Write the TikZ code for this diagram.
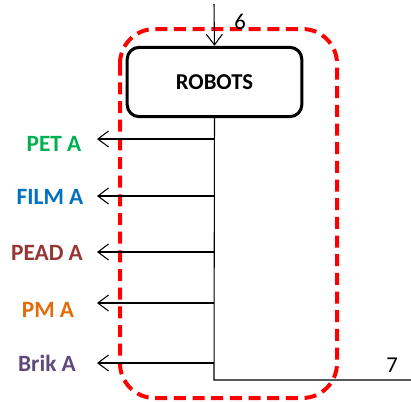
\documentclass[tikz,border=0pt]{standalone}
\usepackage{fontspec}
\setmainfont{Carlito}
\usetikzlibrary{arrows.meta}

\definecolor{petcol}{HTML}{00B050}
\definecolor{filmcol}{HTML}{0070C0}
\definecolor{peadcol}{HTML}{943634}
\definecolor{pmcol}{HTML}{E36C09}
\definecolor{brikcol}{HTML}{5F497A}

\tikzset{
	machine/.style={draw, line width=2.3pt, rounded corners=9pt, minimum width=131pt, minimum height=52pt, font=\fontsize{17}{20}\selectfont\bfseries},
	outlbl/.style={font=\fontsize{17.5}{20}\selectfont\bfseries, inner sep=0pt},
	flownum/.style={font=\fontsize{17}{20}\selectfont, inner sep=0pt},
	zone/.style={draw=red, line width=3pt, dash pattern=on 9pt off 5pt, rounded corners=26pt}
}

\begin{document}
\begin{tikzpicture}[x=0.75pt, y=-0.75pt, line width=0.8pt, >={Straight Barb[length=8pt,width=12pt]}]
	\useasboundingbox (0,0) rectangle (411,401);
	
	% dashed zone round the station
	\draw[zone] (120,29) rectangle (337,398);
	
	\node[machine] (robots) at (214.5,82) {ROBOTS};
	
	% incoming flow 6
	\coordinate (in) at (214,4);
	\draw[->] (in) -- (robots.north);
	\node[flownum] (n6) at (240,22) {6};
	
	% trunk and outgoing flow 7
	\coordinate (corner) at (214,380);
	\coordinate (out) at (411,380);
	\draw (robots.south) -- (corner) -- (out);
	\node[flownum] (n7) at (392,365) {7};
	
	% sorted outputs
	\foreach \y/\ly/\lx/\txt/\col [count=\i] in {139/144/54/PET A/petcol, 196/197/50/FILM A/filmcol, 252/253/47/PEAD A/peadcol, 303/310/48/PM A/pmcol, 363/363/47/Brik A/brikcol}{
		\coordinate (b\i) at (214,\y);
		\coordinate (t\i) at (97,\y);
		\draw[->] (b\i) -- (t\i);
		\node[outlbl, text=\col] (l\i) at (\lx,\ly) {\txt};
	}
\end{tikzpicture}
\end{document}
